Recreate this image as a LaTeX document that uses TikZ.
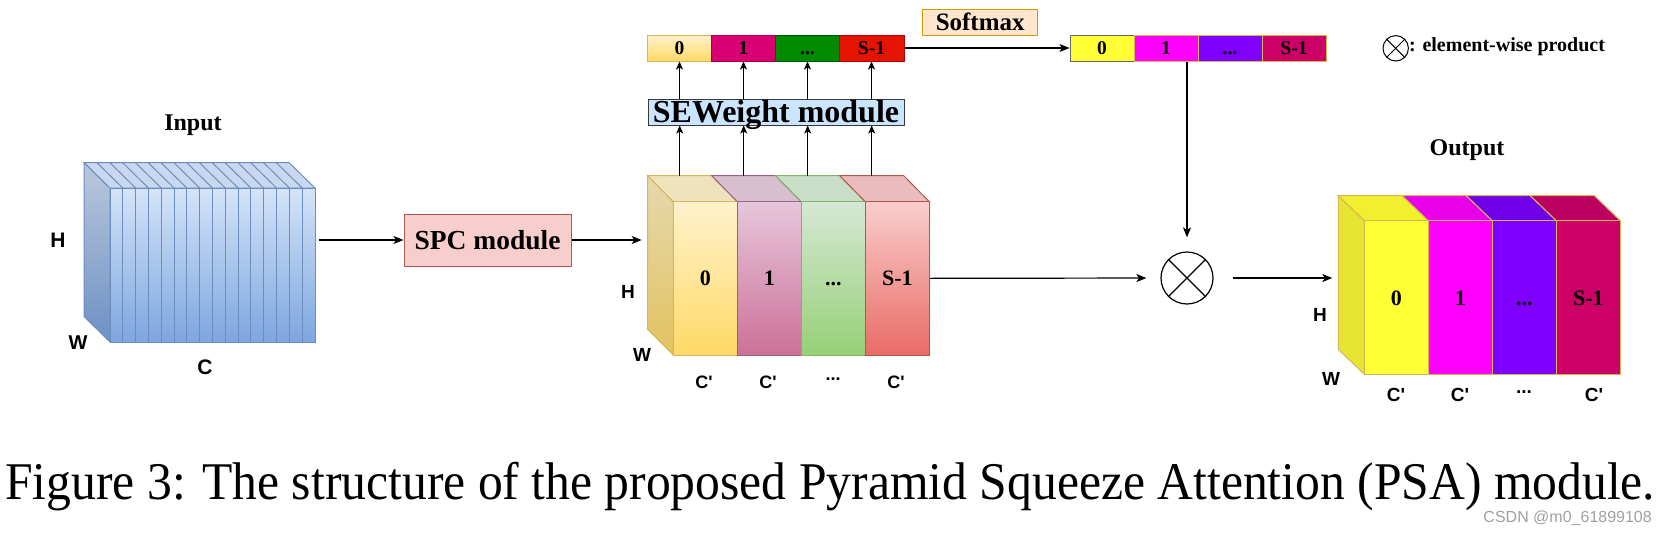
\documentclass[tikz,border=0pt]{standalone}
\usepackage{graphicx}
\usepackage{fontspec}
\setmainfont{Liberation Serif}
\newfontfamily\arialf[Ligatures=TeXOff]{Liberation Sans}
\usetikzlibrary{arrows.meta}
\definecolor{inpTop}{HTML}{D4E4F8}
\definecolor{inpBot}{HTML}{7EA6E0}
\definecolor{inpStr}{HTML}{6C8EBF}
\definecolor{inpSideTop}{HTML}{BAC8DC}
\definecolor{inpSideBot}{HTML}{6E90C4}
\definecolor{inpTopFace}{HTML}{C9D8EE}
\definecolor{spcFill}{HTML}{F8CECC}
\definecolor{spcStr}{HTML}{B85450}
\definecolor{sewFill}{HTML}{CCE5FF}
\definecolor{sewStr}{HTML}{36393D}
\definecolor{smFill}{HTML}{FFE6CC}
\definecolor{smStr}{HTML}{D79B00}
\definecolor{yA}{HTML}{FFF2CC}
\definecolor{yB}{HTML}{FFD966}
\definecolor{yS}{HTML}{D6B656}
\definecolor{pA}{HTML}{E6C6DA}
\definecolor{pB}{HTML}{CD7199}
\definecolor{pS}{HTML}{996185}
\definecolor{gA}{HTML}{D5E8D4}
\definecolor{gB}{HTML}{97D077}
\definecolor{gS}{HTML}{82B366}
\definecolor{rA}{HTML}{F8CECC}
\definecolor{rB}{HTML}{EA6B66}
\definecolor{rS}{HTML}{B85450}
\definecolor{yT}{HTML}{F0E2BD}
\definecolor{pT}{HTML}{D8BECF}
\definecolor{gT}{HTML}{C8DEC6}
\definecolor{rT}{HTML}{EABCBB}
\definecolor{ySideA}{HTML}{E6D8AE}
\definecolor{ySideB}{HTML}{E2C360}
\definecolor{bMag}{HTML}{D80073}
\definecolor{bMagS}{HTML}{A50040}
\definecolor{bGrn}{HTML}{008A00}
\definecolor{bGrnS}{HTML}{005700}
\definecolor{bRed}{HTML}{E51400}
\definecolor{bRedS}{HTML}{B20000}
\definecolor{oY}{HTML}{FFFF33}
\definecolor{oM}{HTML}{FF00FF}
\definecolor{oV}{HTML}{7F00FF}
\definecolor{oC}{HTML}{CC0066}
\definecolor{oYT}{HTML}{F0F02E}
\definecolor{oMT}{HTML}{E800E8}
\definecolor{oVT}{HTML}{7000E8}
\definecolor{oCT}{HTML}{BB0060}
\definecolor{oSide}{HTML}{E6E632}
\definecolor{grey6}{HTML}{666666}
\definecolor{wmark}{HTML}{A0A0A0}
\begin{document}
\begin{tikzpicture}[x=1pt,y=-1pt,
  arr/.style={-{Stealth[length=10pt,width=8pt,inset=2.5pt]}, line width=1.2pt, black},
  sarr/.style={-{Stealth[length=8pt,width=7pt,inset=2pt]}, line width=1.1pt, black},
  lab/.style={inner sep=0pt, font=\arialf\bfseries\fontsize{19}{19}\selectfont},
  ttl/.style={inner sep=0pt, font=\bfseries\fontsize{24}{24}\selectfont},
  cellbox/.style={draw, line width=1pt, minimum width=64pt, minimum height=26pt, inner sep=0pt,
     text height=13pt, text depth=0pt, font=\bfseries\fontsize{19.5}{19.5}\selectfont},
  slicebox/.style={draw, line width=1pt, minimum width=64pt, inner sep=0pt,
     text height=15pt, text depth=0pt, font=\bfseries\fontsize{22}{22}\selectfont},
  face/.style={line width=1pt}
]
\useasboundingbox (0,0) rectangle (1669,538);

% ---------------- Input block ----------------
\node[ttl] (inT) at (193,125) {Input};
\path[face, draw=inpStr, top color=inpSideTop, bottom color=inpSideBot]
  (84,162.5) -- (110,188) -- (110,342) -- (84,316.5) -- cycle;
\path[face, draw=inpStr, fill=inpTopFace]
  (84,162.5) -- (289,162.5) -- (315,188) -- (110,188) -- cycle;
\foreach \i in {1,...,15} {
  \draw[line width=1pt, inpStr] ({110+\i*12.8125-26},162.5) -- ({110+\i*12.8125},188);
}
\node[draw=inpStr, line width=1pt, top color=inpTop, bottom color=inpBot,
  minimum width=205pt, minimum height=154pt, inner sep=0pt] (inp) at (212.5,265) {};
\foreach \i in {1,...,15} {
  \draw[line width=1pt, inpStr] ({110+\i*12.8125},188) -- ({110+\i*12.8125},342);
}
\node[lab, font=\arialf\bfseries\fontsize{21}{21}\selectfont] (inH) at (58,240) {H};
\node[lab, font=\arialf\bfseries\fontsize{20}{20}\selectfont] (inW) at (78,343) {W};
\node[lab, font=\arialf\bfseries\fontsize{21}{21}\selectfont] (inC) at (205,367) {C};

% ---------------- SPC module ----------------
\node[draw=spcStr, fill=spcFill, line width=1pt, minimum width=167pt, minimum height=52pt,
  inner sep=0pt, text height=19pt, text depth=0pt,
  font=\bfseries\fontsize{27.5}{27.5}\selectfont] (spc) at (487.5,240) {SPC module};
\draw[arr, shorten <=3pt] (inp.east |- spc.west) -- (spc.west);

% ---------------- Split block ----------------
\path[face, draw=yS, top color=ySideA, bottom color=ySideB]
  (647.7,175.7) -- (673.3,201.7) -- (673.3,355) -- (647.7,329.3) -- cycle;
\foreach \i/\tc/\sc in {0/yT/yS,1/pT/pS,2/gT/gS,3/rT/rS} {
  \path[face, fill=\tc, draw=\sc]
    ({673.3+64*\i-25.6},175.7) -- ({737.3+64*\i-25.6},175.7) -- ({737.3+64*\i},201.7) -- ({673.3+64*\i},201.7) -- cycle;
  \coordinate (t\i) at ({673.3+64*\i+6.4},175.7);
}
\node[slicebox, draw=yS, top color=yA, bottom color=yB, minimum height=153.3pt] (s0) at (705.3,278.35) {0};
\node[slicebox, draw=pS, top color=pA, bottom color=pB, minimum height=153.3pt] (s1) at (769.3,278.35) {1};
\node[slicebox, draw=gS, top color=gA, bottom color=gB, minimum height=153.3pt] (s2) at (833.3,278.35) {...};
\node[slicebox, draw=rS, top color=rA, bottom color=rB, minimum height=153.3pt] (s3) at (897.3,278.35) {S-1};
\coordinate (splitL) at (647.7,240);
\draw[arr, shorten >=6pt] (spc.east) -- (splitL);
\node[lab] (spH) at (628,292) {H};
\node[lab] (spW) at (642,355) {W};
\node[lab, font=\arialf\bfseries\fontsize{18}{18}\selectfont] (spC0) at (704,382) {C'};
\node[lab, font=\arialf\bfseries\fontsize{18}{18}\selectfont] (spC1) at (768,382) {C'};
\node[lab, font=\arialf\bfseries\fontsize{18}{18}\selectfont] (spC2) at (833,379) {...};
\node[lab, font=\arialf\bfseries\fontsize{18}{18}\selectfont] (spC3) at (896,382) {C'};

% ---------------- SEWeight module ----------------
\node[draw=sewStr, fill=sewFill, line width=1pt, minimum width=256pt, minimum height=26pt,
  inner sep=0pt, text height=22pt, text depth=2pt,
  font=\bfseries\fontsize{32}{32}\selectfont] (sew) at (776,112) {SEWeight module};

% ---------------- attention vector ----------------
\node[cellbox, draw=yS, top color=yA, bottom color=yB] (b0) at (679.5,48) {0};
\node[cellbox, draw=bMagS, fill=bMag] (b1) at (743.5,48) {1};
\node[cellbox, draw=bGrnS, fill=bGrn] (b2) at (807.5,48) {...};
\node[cellbox, draw=bRedS, fill=bRed, minimum width=65pt] (b3) at (871.5,48) {S-1};

\foreach \i in {0,1,2,3} {
  \draw[sarr] (t\i) -- (t\i |- sew.south);
  \draw[sarr] (sew.north -| b\i) -- (b\i.south);
}

% ---------------- Softmax ----------------
\node[draw=smStr, fill=smFill, line width=1pt, minimum width=115pt, minimum height=25.7pt,
  inner sep=0pt, text height=17pt, text depth=0pt,
  font=\bfseries\fontsize{25}{25}\selectfont] (sm) at (980.2,22.2) {Softmax};

% ---------------- softmax output vector ----------------
\node[cellbox, draw=grey6, fill=oY] (c0) at (1102,48) {0};
\node[cellbox, draw=yS, fill=oM] (c1) at (1166,48) {1};
\node[cellbox, draw=yS, fill=oV] (c2) at (1230,48) {...};
\node[cellbox, draw=yS, fill=oC] (c3) at (1294,48) {S-1};
\draw[arr] (b3.east) -- (c0.west);

% ---------------- element-wise product ----------------
\node[circle, draw, line width=1.2pt, minimum size=52pt, inner sep=0pt] (mul) at (1187,278) {};
\draw[line width=1.2pt] (mul.north west) -- (mul.south east);
\draw[line width=1.2pt] (mul.north east) -- (mul.south west);
\draw[arr, shorten >=14pt] (c1.south -| mul.north) -- (mul.north);
\draw[arr, shorten >=14pt] (s3.east) -- (mul.west);

% ---------------- Output block ----------------
\node[ttl] (outT) at (1467,150) {Output};
\path[face, draw=yS, fill=oSide]
  (1338.3,195.7) -- (1364.3,220.7) -- (1364.3,374.3) -- (1338.3,349.3) -- cycle;
\foreach \i/\tc in {0/oYT,1/oMT,2/oVT,3/oCT} {
  \path[face, fill=\tc, draw=yS]
    ({1364.3+64*\i-26},195.7) -- ({1428.3+64*\i-26},195.7) -- ({1428.3+64*\i},220.7) -- ({1364.3+64*\i},220.7) -- cycle;
}
\node[slicebox, draw=yS, fill=oY, minimum height=153.6pt] (o0) at (1396.3,297.5) {0};
\node[slicebox, draw=yS, fill=oM, minimum height=153.6pt] (o1) at (1460.3,297.5) {1};
\node[slicebox, draw=yS, fill=oV, minimum height=153.6pt] (o2) at (1524.3,297.5) {...};
\node[slicebox, draw=yS, fill=oC, minimum height=153.6pt] (o3) at (1588.3,297.5) {S-1};
\coordinate (outL) at (1338.3,278);
\draw[arr, shorten <=19pt, shorten >=6pt] (mul.east) -- (outL);
\node[lab] (oH) at (1320,315) {H};
\node[lab] (oW) at (1331,379) {W};
\node[lab] (oC0) at (1396,395) {C'};
\node[lab] (oC1) at (1460,395) {C'};
\node[lab] (oC2) at (1524,392) {...};
\node[lab] (oC3) at (1594,395) {C'};

% ---------------- legend ----------------
\node[circle, draw, line width=1pt, minimum size=25.4pt, inner sep=0pt] (leg) at (1395.7,48.3) {};
\draw[line width=1pt] (leg.north west) -- (leg.south east);
\draw[line width=1pt] (leg.north east) -- (leg.south west);
\node[anchor=west, inner sep=0pt, font=\bfseries\fontsize{20}{20}\selectfont] (legT) at (1409,47) {: element-wise product};

% ---------------- caption ----------------
\node[anchor=base west, inner sep=0pt, text depth=0pt] (cap) at (5,499)
  {\resizebox{1650pt}{\height}{\fontsize{53}{53}\selectfont Figure 3: The structure of the proposed Pyramid Squeeze Attention (PSA) module.}};
\node[anchor=base east, inner sep=0pt, text=wmark, font=\arialf\fontsize{16}{16}\selectfont] (wm) at (1652,522) {CSDN @m0\_61899108};
\end{tikzpicture}
\end{document}
